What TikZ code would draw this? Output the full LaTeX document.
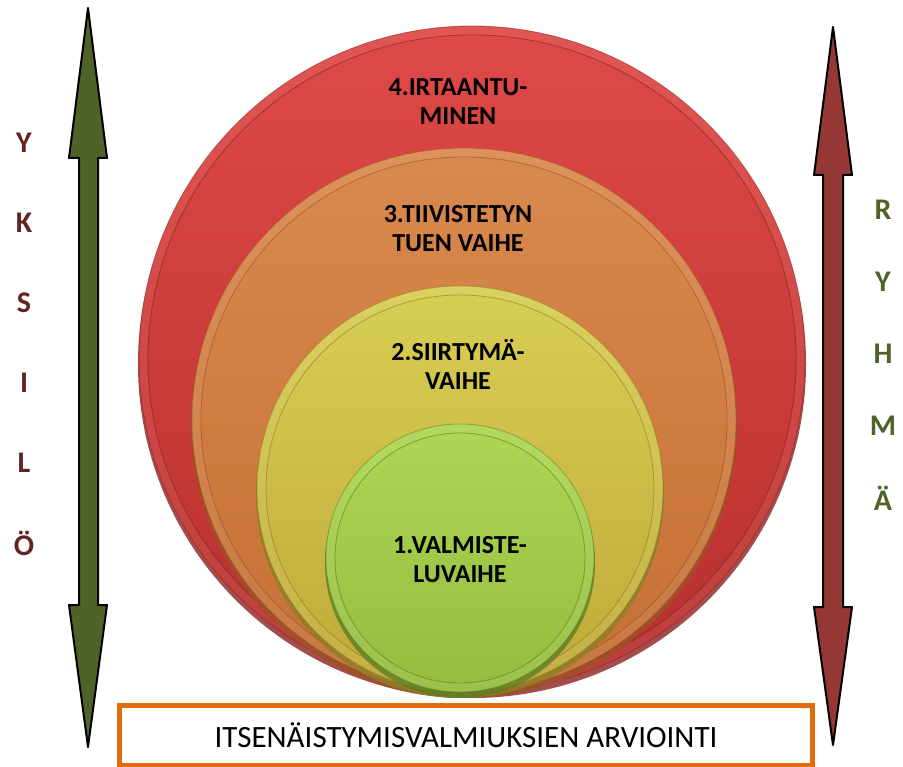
\documentclass[tikz,border=0pt]{standalone}
\usepackage{fontspec}
\setmainfont{Carlito}
\definecolor{arrowgreen}{HTML}{4F6228}
\definecolor{arrowred}{HTML}{953735}
\definecolor{letterred}{HTML}{632523}
\definecolor{boxorange}{HTML}{E36C09}
\definecolor{redtop}{HTML}{DE4A47}
\definecolor{redbot}{HTML}{B72F2D}
\definecolor{redsh}{HTML}{8B2220}
\definecolor{orangetop}{HTML}{DA8A4E}
\definecolor{orangebot}{HTML}{C46F35}
\definecolor{orangesh}{HTML}{9A5526}
\definecolor{yellowtop}{HTML}{D8CE54}
\definecolor{yellowbot}{HTML}{BFA938}
\definecolor{yellowsh}{HTML}{8E7E25}
\definecolor{greentop}{HTML}{ADD654}
\definecolor{greenbot}{HTML}{94BD3F}
\definecolor{greensh}{HTML}{5E7D22}
\tikzset{
  phase/.style={font=\fontsize{26}{29}\selectfont\bfseries, align=center, text=black},
  sideletter/.style={font=\fontsize{30}{32}\selectfont\bfseries},
  bigarrow/.style={line width=2pt, line join=round},
}
\begin{document}
\begin{tikzpicture}[x=1pt,y=1pt]
\useasboundingbox (0,0) rectangle (903,-767);
% arrows
\draw[bigarrow, fill=arrowgreen] (88,-8) -- (107,-158) -- (98,-158) -- (98,-605) -- (107,-605) -- (88,-747)
  -- (69,-605) -- (79,-605) -- (79,-158) -- (69,-158) -- cycle;
\draw[bigarrow, fill=arrowred] (833,-27) -- (852,-175) -- (843,-175) -- (843,-607) -- (852,-607) -- (833,-745)
  -- (814,-607) -- (823,-607) -- (823,-175) -- (814,-175) -- cycle;
% circles, largest first
\foreach \cx/\cy/\r/\c in {472/359/333/red, 464/420/272/orange, 460/489/203/yellow, 460/558/134/green} {
\fill[\c sh, opacity=0.8] (\cx,-\cy-5) circle[radius=\r+1];
\shade[top color=\c top, bottom color=\c bot] (\cx,-\cy) circle[radius=\r];
\draw[\c sh, opacity=0.5, line width=0.8pt] (\cx,-\cy) circle[radius=\r];
\draw[white, opacity=0.07, line width=8pt] (\cx,-\cy) circle[radius=\r-4.5];
\draw[\c sh, opacity=0.6, line width=0.8pt] (\cx,-\cy) circle[radius=\r-9];
}
\node[phase] (p4) at (458,-102) {4.IRTAANTU-\\MINEN};
\node[phase] (p3) at (458,-229) {3.TIIVISTETYN\\TUEN VAIHE};
\node[phase] (p2) at (458,-364) {2.SIIRTYMÄ-\\VAIHE};
\node[phase] (p1) at (460,-560) {1.VALMISTE-\\LUVAIHE};
% side letters
\foreach \l [count=\i from 0] in {Y,K,S,I,L,Ö}
  \node[sideletter, text=letterred] (yk\i) at (24,-143-80*\i) {\l};
\foreach \l [count=\i from 0] in {R,Y,H,M,Ä}
  \node[sideletter, text=arrowgreen] (ry\i) at (883,-210-72*\i) {\l};
% bottom box
\node[draw=boxorange, line width=5pt, minimum width=693pt, minimum height=60pt,
  font=\fontsize{31}{34}\selectfont] (arvio) at (466,-735) {ITSENÄISTYMISVALMIUKSIEN ARVIOINTI};
\end{tikzpicture}
\end{document}
